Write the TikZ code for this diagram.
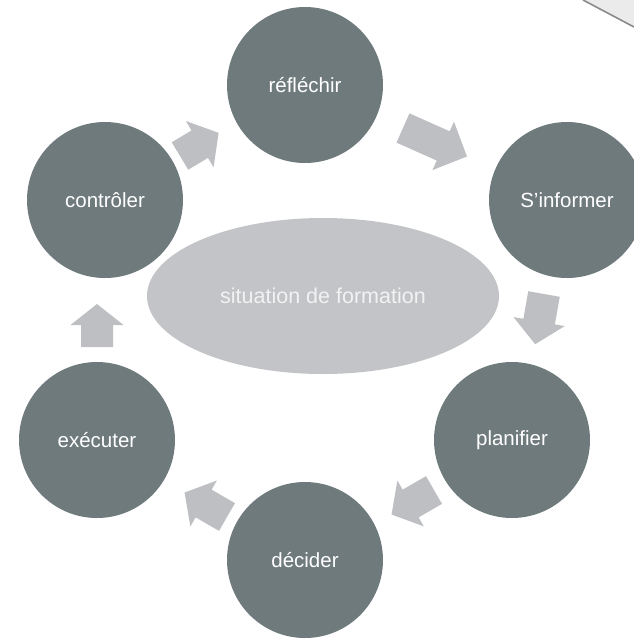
\documentclass[tikz,border=0pt]{standalone}
\usepackage{fontspec}
\setmainfont{Liberation Sans}
\usetikzlibrary{shapes.geometric}
\definecolor{circfill}{HTML}{6F7A7D}
\definecolor{ellfill}{HTML}{C3C4C7}
\definecolor{arrfill}{HTML}{BDBFC2}
\definecolor{pagecorner}{HTML}{EBEBEB}
\definecolor{pageedge}{HTML}{8A8A8A}
\newcommand\blockarrow[6]{% tail point, visual angle, length, head width, shaft width, head length
  \fill[arrfill,shift={(#1)},rotate=#2]
    (0,0.5*#5) -- ({#3-#6},0.5*#5) -- ({#3-#6},0.5*#4) -- (#3,0)
    -- ({#3-#6},-0.5*#4) -- ({#3-#6},-0.5*#5) -- (0,-0.5*#5) -- cycle;}
\begin{document}
\begin{tikzpicture}[x=1pt,y=-1pt,
  stepcircle/.style={circle,fill=circfill,minimum size=156pt,inner sep=0pt,
    text=white,font=\fontsize{20.5}{24}\selectfont},
  centerell/.style={ellipse,fill=ellfill,minimum width=352pt,minimum height=156pt,
    inner sep=0pt,text=white!95!black,font=\fontsize{21.5}{25}\selectfont}]
\useasboundingbox (0,0) rectangle (634,641);
% page corner artifact
\fill[pagecorner] (583,0) -- (634,0) -- (634,27) -- cycle;
\draw[pageedge,line width=1.6pt] (583,0) -- (634,27);
% centre
\node[centerell] (sit) at (323,296) {situation de formation};
% steps
\node[stepcircle] (ref) at (305,85) {réfléchir};
\node[stepcircle] (inf) at (567,200) {S’informer};
\node[stepcircle] (pla) at (512,440) {planifier};
\node[stepcircle] (dec) at (305,560) {décider};
\node[stepcircle] (exe) at (97,440) {exécuter};
\node[stepcircle] (con) at (105,200) {contrôler};
% arrows
\blockarrow{180,156}{31}{45}{54}{32}{22}
\blockarrow{403,128}{-24}{70}{53}{32}{26}
\blockarrow{544,294}{-100}{51}{52}{32}{23}
\blockarrow{434,490}{-150}{49}{53}{32}{22}
\blockarrow{227,517}{150}{49}{53}{32}{22}
\blockarrow{97,347}{90}{43}{53}{32}{21}
\end{tikzpicture}
\end{document}
